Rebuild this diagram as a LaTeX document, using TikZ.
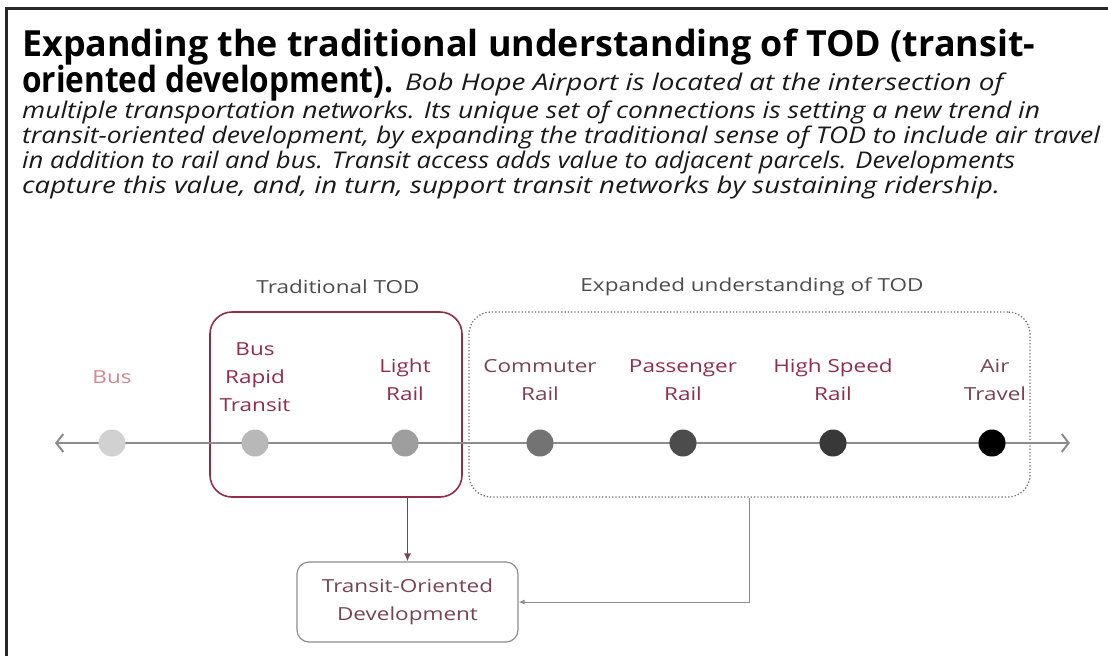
\documentclass[tikz,border=0pt]{standalone}
\usepackage{fontspec}
\setmainfont{Open Sans}
\newfontfamily\lblfont[FakeStretch=1.25]{Open Sans}
\usetikzlibrary{arrows.meta}
\definecolor{todred}{RGB}{145,45,72}
\definecolor{todpink}{RGB}{210,135,148}
\definecolor{todmauve}{RGB}{120,65,85}
\definecolor{framegray}{RGB}{40,40,40}
\tikzset{
  stop/.style={circle,inner sep=0pt,minimum size=27pt},
  lbl/.style={align=center,font=\lblfont\fontsize{18}{28}\selectfont},
  head/.style={align=center,text=black!70,font=\lblfont\fontsize{18}{22}\selectfont},
  txtline/.style={anchor=base west,inner sep=0pt}
}
\newcommand\fitto[2]{\resizebox{#1}{\height}{#2}}
\begin{document}
\begin{tikzpicture}[x=1pt,y=-1pt]
\useasboundingbox (0,0) rectangle (1108,656);
\draw[line width=3pt,framegray] (6,656) -- (6,8) -- (1108,8);
% title and caption
\node[txtline] (ttla) at (22,56) {\fitto{1013pt}{\bfseries\fontsize{36}{36}\selectfont Expanding the traditional understanding of TOD (transit-}};
\node[txtline] (ttlb) at (22,92) {\fitto{371pt}{\bfseries\fontsize{36}{36}\selectfont oriented development).}};
\node[txtline,text=black!90] (capa) at (405,90) {\fitto{598pt}{\itshape\fontsize{23}{23}\selectfont Bob Hope Airport is located at the intersection of}};
\node[txtline,text=black!90] (capb) at (22,118) {\fitto{1018pt}{\itshape\fontsize{23}{23}\selectfont multiple transportation networks. Its unique set of connections is setting a new trend in}};
\node[txtline,text=black!90] (capc) at (22,143) {\fitto{1078pt}{\itshape\fontsize{23}{23}\selectfont transit-oriented development, by expanding the traditional sense of TOD to include air travel}};
\node[txtline,text=black!90] (capd) at (22,168) {\fitto{993pt}{\itshape\fontsize{23}{23}\selectfont in addition to rail and bus. Transit access adds value to adjacent parcels. Developments}};
\node[txtline,text=black!90] (cape) at (22,193) {\fitto{978pt}{\itshape\fontsize{23}{23}\selectfont capture this value, and, in turn, support transit networks by sustaining ridership.}};
% groups
\node[head] (tradttl) at (338,287) {Traditional TOD};
\node[head] (expttl) at (752,287) {Expanded understanding of TOD};
\node[draw=todred,line width=1.6pt,rounded corners=22pt,minimum width=252pt,minimum height=185pt] (trad) at (336,404.5) {};
\node[draw=black!55,dotted,line width=1.3pt,rounded corners=22pt,minimum width=561pt,minimum height=185pt] (expd) at (749.5,404.5) {};
% timeline
\coordinate (lend) at (55,443);
\coordinate (rend) at (1070,443);
\draw[black!45,line width=2pt,{Straight Barb[length=7pt,width=18pt]}-{Straight Barb[length=7pt,width=18pt]}] (lend) -- (rend);
\node[stop,fill=black!18] (bus) at (112,443) {};
\node[stop,fill=black!28] (brt) at (255,443) {};
\node[stop,fill=black!38] (lrail) at (405,443) {};
\node[stop,fill=black!55] (crail) at (540,443) {};
\node[stop,fill=black!70] (prail) at (683,443) {};
\node[stop,fill=black!78] (hsrail) at (833,443) {};
\node[stop,fill=black] (air) at (992,443) {};
\node[lbl,text=todpink] at (112,377) {Bus};
\node[lbl,text=todred] at (255,377) {Bus\\Rapid\\Transit};
\node[lbl,text=todred] at (405,380) {Light\\Rail};
\node[lbl,text=todmauve] at (540,380) {Commuter\\Rail};
\node[lbl,text=todred] at (683,380) {Passenger\\Rail};
\node[lbl,text=todred] at (833,380) {High Speed\\Rail};
\node[lbl,text=todmauve] at (995,380) {Air\\Travel};
% development
\node[draw=black!45,line width=1.2pt,rounded corners=12pt,minimum width=221pt,minimum height=80pt,lbl,text=todmauve] (tod) at (407.5,602) {Transit-Oriented\\Development};
\draw[todmauve,line width=1.5pt,-{Latex[length=8pt,width=7pt]}] (trad.south -| tod.north) -- (tod.north);
\draw[black!45,line width=1pt,-{Latex[length=6pt,width=5pt]}] (expd.south) |- (tod.east);
\end{tikzpicture}
\end{document}
